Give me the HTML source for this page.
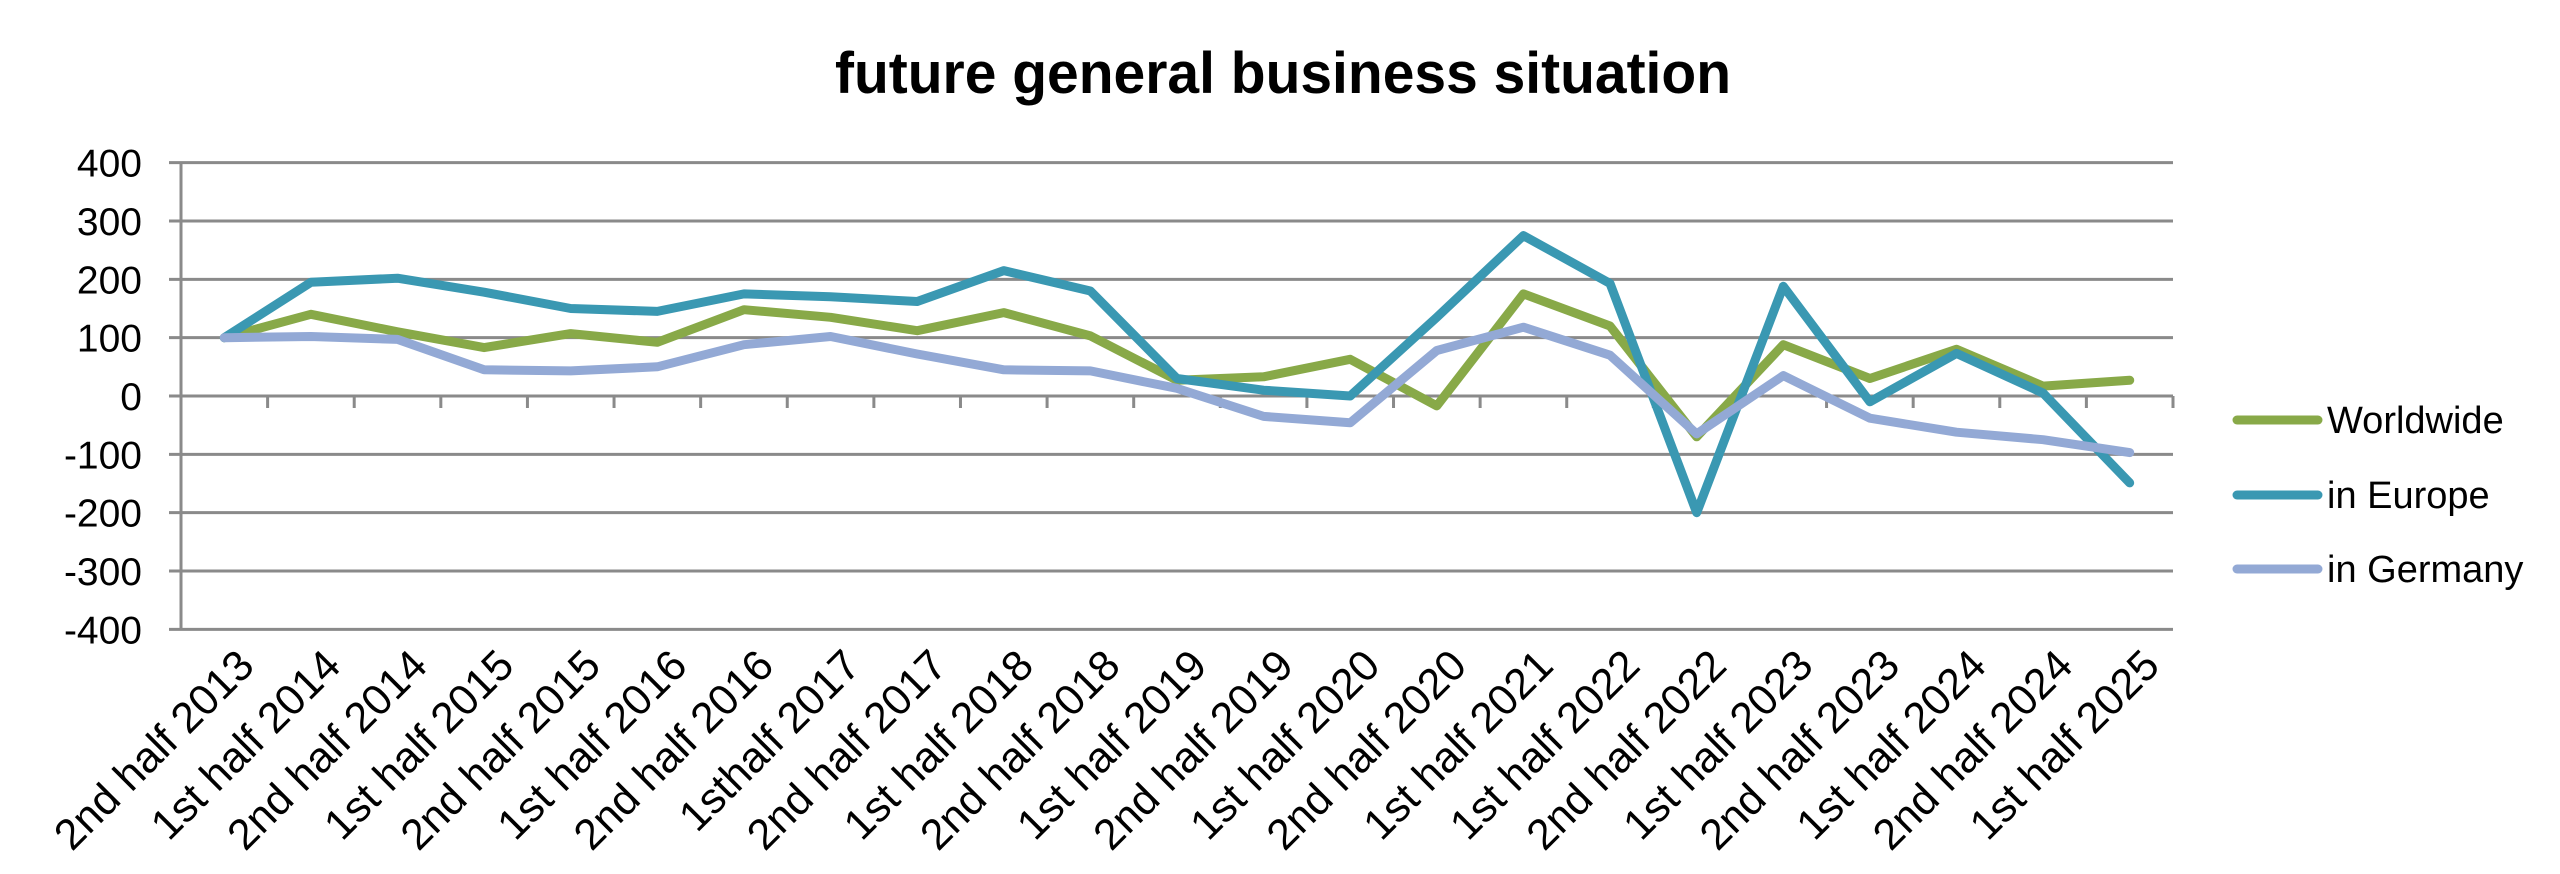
<!DOCTYPE html>
<html><head><meta charset="utf-8"><style>
html,body{margin:0;padding:0;background:#fff;}
svg{display:block;}
text{font-family:"Liberation Sans",Arial,sans-serif;fill:#000;}
</style></head><body>
<svg width="2560" height="874" viewBox="0 0 2560 874" xmlns="http://www.w3.org/2000/svg">
<text x="835" y="93" font-size="58" font-weight="bold" textLength="896" lengthAdjust="spacingAndGlyphs">future general business situation</text>
<g id="grid" stroke="#8a8a8a" stroke-width="3"></g>
<g id="ylab" font-size="39" text-anchor="end"></g>
<g id="xlab" font-size="43" text-anchor="end"></g>
<g id="series" fill="none" stroke-width="9" stroke-linejoin="round" stroke-linecap="round"></g>
<g font-size="38">
<line x1="2237" y1="420" x2="2318" y2="420" stroke="#88a948" stroke-width="9" stroke-linecap="round"/>
<text x="2327" y="433">Worldwide</text>
<line x1="2237" y1="495" x2="2318" y2="495" stroke="#3a98b2" stroke-width="9" stroke-linecap="round"/>
<text x="2327" y="508">in Europe</text>
<line x1="2237" y1="569" x2="2318" y2="569" stroke="#93a9d5" stroke-width="9" stroke-linecap="round"/>
<text x="2327" y="582">in Germany</text>
</g>
</svg>
<script>
(function(){
var NS="http://www.w3.org/2000/svg";
var L=181,R=2173,y0=396,per=58.33,n=23,step=(R-L)/n;
function Y(v){return y0-v/100*per;}
function X(i){return L+step*(i+0.5);}
function el(t,a,p,txt){var e=document.createElementNS(NS,t);for(var k in a)e.setAttribute(k,a[k]);if(txt!=null)e.textContent=txt;p.appendChild(e);return e;}
var g=document.getElementById('grid'),yl=document.getElementById('ylab'),xl=document.getElementById('xlab'),s=document.getElementById('series');
for(var v=400;v>=-400;v-=100){var y=Y(v);el('line',{x1:L-12,y1:y,x2:R,y2:y},g);el('text',{x:142,y:y+14},yl,String(v));}
el('line',{x1:L,y1:Y(400),x2:L,y2:Y(-400)},g);
for(var i=1;i<=n;i++){var x=L+step*i;el('line',{x1:x,y1:y0,x2:x,y2:y0+12},g);}
var labels=["2nd  half 2013","1st half 2014","2nd half 2014","1st half 2015","2nd half 2015","1st half 2016","2nd half 2016","1sthalf 2017","2nd half 2017","1st half 2018","2nd half 2018","1st half 2019","2nd half 2019","1st half 2020","2nd half 2020","1st half 2021","1st half 2022","2nd half 2022","1st half 2023","2nd half 2023","1st half 2024","2nd half 2024","1st half 2025"];
labels.forEach(function(t,i){var x=X(i)+32,y=668;el('text',{x:x,y:y,transform:'rotate(-45 '+x+' '+y+')'},xl,t);});
var data=[
["#88a948",[100,140,110,83,107,92,148,135,112,143,103,27,33,63,-17,175,120,-70,88,30,80,17,27]],
["#3a98b2",[100,195,202,178,150,145,175,170,162,215,180,30,10,0,135,275,193,-200,188,-10,73,5,-149]],
["#93a9d5",[100,102,97,45,43,50,88,102,72,45,43,13,-35,-46,78,118,70,-65,35,-38,-62,-75,-97]]];
data.forEach(function(d){var pts=d[1].map(function(v,i){return X(i).toFixed(1)+','+Y(v).toFixed(1);}).join(' ');el('polyline',{points:pts,stroke:d[0]},s);});
})();
</script>
</body></html>
